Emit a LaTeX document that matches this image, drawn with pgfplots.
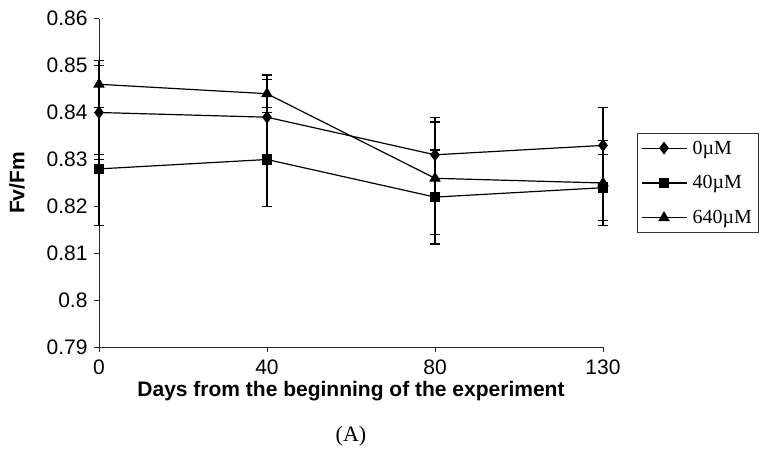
\documentclass[border=0pt]{standalone}
\usepackage{fontspec}
\setmainfont{Liberation Sans}
\newfontfamily\seriffont{Liberation Serif}
\usepackage{pgfplots}
\usepackage{pgfplotstable}
\pgfplotsset{compat=1.18}

% day index, mean, error plus, error minus
\pgfplotstableread{
x y ep em
0 0.840 0.010 0.010
1 0.839 0.008 0.008
2 0.831 0.008 0.008
3 0.833 0.008 0.008
}\zero
\pgfplotstableread{
x y ep em
0 0.828 0.003 0.012
1 0.830 0.010 0.010
2 0.822 0.010 0.010
3 0.824 0.007 0.008
}\forty
\pgfplotstableread{
x y ep em
0 0.846 0.005 0.005
1 0.844 0.004 0.003
2 0.826 0.012 0.012
3 0.825 0.009 0.008
}\sixforty

\begin{document}
\begin{tikzpicture}[x=1pt,y=1pt]
\path[use as bounding box] (0,0) rectangle (762,473);
\begin{axis}[
  at={(99pt,125.5pt)}, anchor=south west,
  scale only axis, width=504pt, height=329pt,
  xmin=0, xmax=3, ymin=0.79, ymax=0.86,
  axis lines*=left,
  axis line style={line width=1pt, black!85},
  xtick={0,1,2,3}, xticklabels={0,40,80,130},
  ytick={0.79,0.80,0.81,0.82,0.83,0.84,0.85,0.86},
  yticklabels={0.79,0.8,0.81,0.82,0.83,0.84,0.85,0.86},
  tick align=outside, major tick length=5pt,
  tick style={line width=1pt, black!85},
  ticklabel style={font=\fontsize{21}{24}\selectfont},
  xticklabel style={yshift=-4pt},
  yticklabel style={xshift=-3pt},
  xlabel={Days from the beginning of the experiment},
  ylabel={Fv/Fm},
  xlabel style={font=\bfseries\fontsize{21}{24}\selectfont, at={(axis description cs:0.5,0)}, anchor=center, yshift=-44pt},
  ylabel style={font=\bfseries\fontsize{21}{24}\selectfont, at={(axis description cs:0,0.5)}, anchor=center, yshift=82pt},
  clip=false,
  every axis plot/.append style={black, line width=1.2pt, mark options={solid, fill=black}},
  error bars/y dir=both, error bars/y explicit,
  error bars/error bar style={line width=1.3pt, black},
  error bars/error mark options={rotate=90, mark size=5pt, line width=1.3pt, black},
  legend style={at={(axis description cs:1.0675,0.651)}, anchor=north west,
    draw=black!80, line width=0.8pt, font=\seriffont\fontsize{20}{23}\selectfont,
    row sep=16pt, column sep=3pt, inner xsep=4pt, inner ysep=5pt},
  legend cell align=left,
  legend image code/.code={\draw[mark repeat=2,mark phase=2,#1] plot coordinates {(0pt,0pt) (22pt,0pt) (45pt,0pt)};},
]
\addplot[mark=diamond*, mark size=5.5pt] table[x=x, y=y, y error plus=ep, y error minus=em] {\zero};
\addlegendentry{0µM}
\addplot[mark=square*, mark size=4.5pt] table[x=x, y=y, y error plus=ep, y error minus=em] {\forty};
\addlegendentry{40µM}
\addplot[mark=triangle*, mark size=5.5pt] table[x=x, y=y, y error plus=ep, y error minus=em] {\sixforty};
\addlegendentry{640µM}
\end{axis}
\node[font=\seriffont\fontsize{22}{25}\selectfont] at (351,37) {(A)};
\end{tikzpicture}
\end{document}
